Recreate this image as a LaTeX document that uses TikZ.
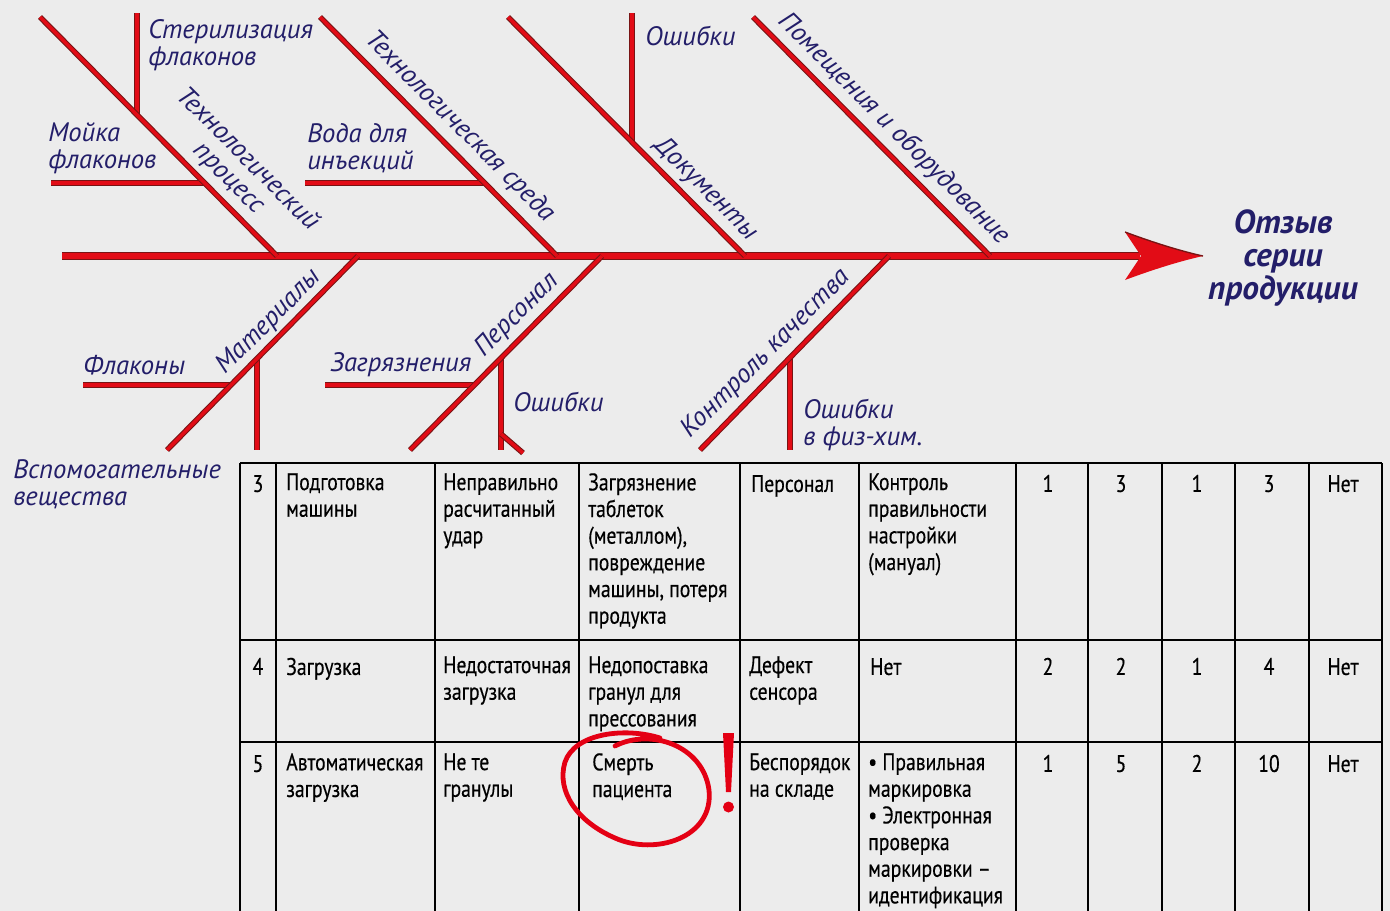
\documentclass[tikz,border=0pt]{standalone}
\usepackage{fontspec}
\setmainfont{PT Sans}
\newfontfamily\tabfont[FakeStretch=0.82, FakeBold=0.4]{PT Sans}
\usetikzlibrary{calc}

\definecolor{paper}{RGB}{236,236,236}
\definecolor{bonered}{RGB}{226,12,22}
\definecolor{bonedark}{RGB}{120,20,20}
\definecolor{navy}{RGB}{35,30,105}
\definecolor{alarm}{RGB}{228,0,20}

\newcommand{\causefont}{\fontsize{20pt}{20pt}\selectfont\itshape}
\newcommand{\effectfont}{\fontsize{25pt}{24.5pt}\selectfont\bfseries\itshape}
\newcommand{\cellfont}{\tabfont\fontsize{18pt}{20pt}\selectfont}

\begin{document}
\begin{tikzpicture}[
    x=0.75pt, y=-0.75pt,
    bone/.style={draw=bonedark, double=bonered, line width=0.8pt, double distance=2.6pt},
    spine/.style={draw=bonedark, double=bonered, line width=1pt, double distance=4.6pt},
    cause/.style={font=\causefont, text=navy, inner sep=0pt, align=center},
    sub/.style={font=\causefont, text=navy, inner sep=0pt, align=left, anchor=west},
    effect/.style={font=\effectfont, text=navy, inner sep=0pt, align=center},
    cell/.style={font=\cellfont, text=black, inner sep=0pt, align=left, anchor=north west, execute at begin node=\strut},
    num/.style={cell, anchor=north, align=center},
    grid/.style={draw=black, line width=1.5pt},
    ring/.style={draw=alarm, line width=3.6pt, line cap=round}
]

\useasboundingbox[fill=paper] (0,0) rectangle (1390,911);

% --- Spine and effect ---
\coordinate (tail) at (62,256);
\coordinate (head) at (1140,256);
\coordinate (tip) at (1203,256);
\draw[spine] (tail) -- (head);
\fill[bonered] (1125,232) .. controls (1160,245) and (1185,252) .. (tip)
    .. controls (1185,260) and (1160,267) .. (1125,280) -- (1141,256) -- cycle;
\draw[bonedark, line width=1pt] (1125,232) .. controls (1160,245) and (1185,252) .. (tip);
\node[effect] (recall) at (1283,258) {Отзыв\\серии\\продукции};

% --- Upper causes ---
\coordinate (proc-top) at (40,17);
\coordinate (proc-end) at (277,256);
\coordinate (env-top) at (320,17);
\coordinate (env-end) at (557,256);
\coordinate (docs-top) at (508,17);
\coordinate (docs-end) at (745,256);
\coordinate (room-top) at (753,17);
\coordinate (room-end) at (990,256);

% sub-causes
\coordinate (steril-top) at (137,13);
\coordinate (steril-end) at (137,115);
\coordinate (wash-start) at (51,183);
\coordinate (wash-end) at (205,183);
\coordinate (water-start) at (305,183);
\coordinate (water-end) at (485,183);
\coordinate (err1-top) at (632,13);
\coordinate (err1-end) at (632,142);

\draw[bone] (steril-top) -- (steril-end);
\draw[bone] (wash-start) -- (wash-end);
\draw[bone] (water-start) -- (water-end);
\draw[bone] (err1-top) -- (err1-end);

\draw[bone] (proc-top) -- (proc-end);
\draw[bone] (env-top) -- (env-end);
\draw[bone] (docs-top) -- (docs-end);
\draw[bone] (room-top) -- (room-end);

\node[cause, rotate=-45] (proc) at (238,169) {Технологический\\процесс};
\node[cause, rotate=-45] (env) at (460,127) {Технологическая среда};
\node[cause, rotate=-45] (docs) at (706,189) {Документы};
\node[cause, rotate=-45] (room) at (894,129) {Помещения и оборудование};

\node[sub] (steril) at (148,45) {Стерилизация\\флаконов};
\node[sub] (wash) at (48,148) {Мойка\\флаконов};
\node[sub] (water) at (307,148) {Вода для\\инъекций};
\node[sub] (err1) at (645,36) {Ошибки};

% --- Lower causes ---
\coordinate (mat-top) at (358,256);
\coordinate (mat-end) at (167,450);
\coordinate (staff-top) at (602,256);
\coordinate (staff-end) at (410,450);
\coordinate (qc-top) at (889,256);
\coordinate (qc-end) at (700,450);

% sub-causes
\coordinate (vial-start) at (83,385);
\coordinate (vial-end) at (231,385);
\coordinate (aux-top) at (257,359);
\coordinate (aux-end) at (257,450);
\coordinate (dirt-start) at (325,385);
\coordinate (dirt-end) at (475,385);
\coordinate (err2-top) at (501,359);
\coordinate (err2-end) at (501,450);
\coordinate (err2-fork) at (501,434);
\coordinate (err2-twig) at (523,453);
\coordinate (err3-top) at (790,358);
\coordinate (err3-end) at (790,450);

\draw[bone] (vial-start) -- (vial-end);
\draw[bone] (aux-top) -- (aux-end);
\draw[bone] (dirt-start) -- (dirt-end);
\draw[bone] (err2-top) -- (err2-end);
\draw[bone] (err2-fork) -- (err2-twig);
\draw[bone] (err3-top) -- (err3-end);

\draw[bone] (mat-top) -- (mat-end);
\draw[bone] (staff-top) -- (staff-end);
\draw[bone] (qc-top) -- (qc-end);

\node[cause, rotate=45] (mat) at (269,322) {Материалы};
\node[cause, rotate=45] (staff) at (517,315) {Персонал};
\node[cause, rotate=45] (qc) at (766,354) {Контроль качества};

\node[sub] (vial) at (83,365) {Флаконы};
\node[sub] (aux) at (13,484) {Вспомогательные\\вещества};
\node[sub] (dirt) at (330,365) {Загрязнения};
\node[sub] (err2) at (513,402) {Ошибки};
\node[sub] (err3) at (803,425) {Ошибки\\в физ-хим.};

% --- Table ---
\draw[grid] (240,463) -- (1382,463);
\draw[grid] (240,640) -- (1382,640);
\draw[grid] (240,742) -- (1382,742);
\draw[grid] (240,463) -- (240,911);
\draw[grid] (276,463) -- (276,911);
\draw[grid] (435,463) -- (435,911);
\draw[grid] (578.5,463) -- (578.5,911);
\draw[grid] (740,463) -- (740,911);
\draw[grid] (859,463) -- (859,911);
\draw[grid] (1015.5,463) -- (1015.5,911);
\draw[grid] (1088,463) -- (1088,911);
\draw[grid] (1162,463) -- (1162,911);
\draw[grid] (1235,463) -- (1235,911);
\draw[grid] (1309,463) -- (1309,911);
\draw[grid] (1382,463) -- (1382,911);

% row 3
\node[num] (r3-id) at (258,473) {3};
\node[cell] (r3-step) at (286,473) {Подготовка\\машины};
\node[cell] (r3-fail) at (443,473) {Неправильно\\расчитанный\\удар};
\node[cell] (r3-effect) at (588,473) {Загрязнение\\таблеток\\(металлом),\\повреждение\\машины, потеря\\продукта};
\node[cell] (r3-cause) at (751,473) {Персонал};
\node[cell] (r3-ctrl) at (868,473) {Контроль\\правильности\\настройки\\(мануал)};
\node[num] (r3-s) at (1048,473) {1};
\node[num] (r3-o) at (1121,473) {3};
\node[num] (r3-d) at (1197,473) {1};
\node[num] (r3-rpn) at (1269,473) {3};
\node[num] (r3-act) at (1343,473) {Нет};

% row 4
\node[num] (r4-id) at (258,656) {4};
\node[cell] (r4-step) at (286,656) {Загрузка};
\node[cell] (r4-fail) at (443,656) {Недостаточная\\загрузка};
\node[cell] (r4-effect) at (588,656) {Недопоставка\\гранул для\\прессования};
\node[cell] (r4-cause) at (749,656) {Дефект\\сенсора};
\node[cell] (r4-ctrl) at (870,656) {Нет};
\node[num] (r4-s) at (1048,656) {2};
\node[num] (r4-o) at (1121,656) {2};
\node[num] (r4-d) at (1197,656) {1};
\node[num] (r4-rpn) at (1269,656) {4};
\node[num] (r4-act) at (1343,656) {Нет};

% row 5
\node[num] (r5-id) at (258,753) {5};
\node[cell] (r5-step) at (286,753) {Автоматическая\\загрузка};
\node[cell] (r5-fail) at (443,753) {Не те\\гранулы};
\node[cell] (r5-effect) at (592,753) {Смерть\\пациента};
\node[cell] (r5-cause) at (749,753) {Беспорядок\\на складе};
\node[cell] (r5-ctrl) at (868,753) {• Правильная\\маркировка\\• Электронная\\проверка\\маркировки –\\идентификация};
\node[num] (r5-s) at (1048,753) {1};
\node[num] (r5-o) at (1121,753) {5};
\node[num] (r5-d) at (1197,753) {2};
\node[num] (r5-rpn) at (1269,753) {10};
\node[num] (r5-act) at (1343,753) {Нет};

% --- Warning mark ---
\draw[ring] (615,746) .. controls (650,728) and (703,745) .. (709,790)
    .. controls (714,838) and (655,856) .. (615,838)
    .. controls (578,822) and (556,792) .. (565,762)
    .. controls (575,733) and (625,727) .. (660,738);
\fill[alarm] (723,733) -- (734,733) -- (731,792) -- (726,792) -- cycle;
\fill[alarm] (728.5,807) circle (5.5);

\end{tikzpicture}
\end{document}
